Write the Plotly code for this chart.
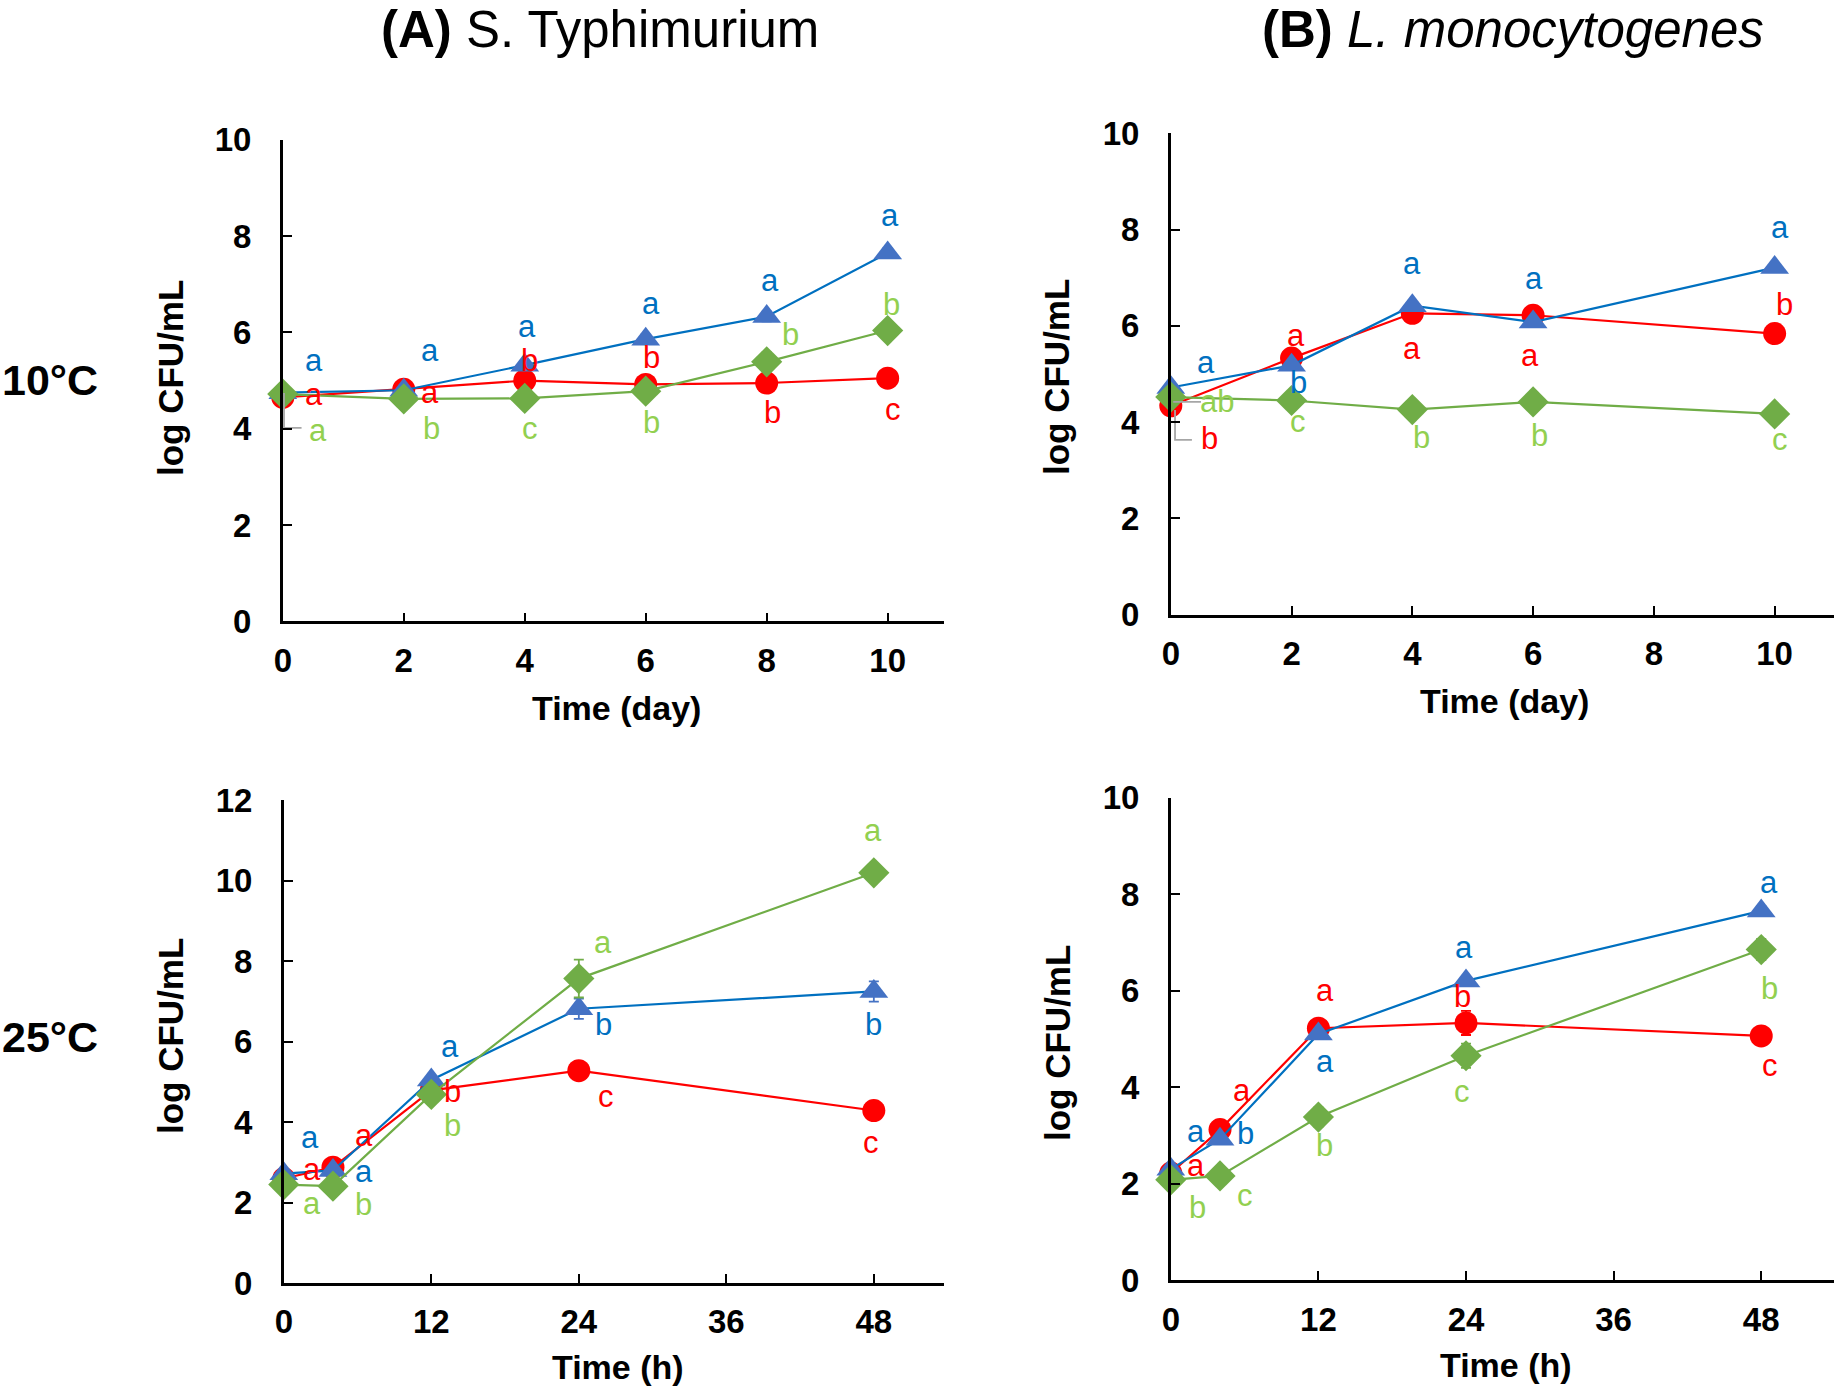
import plotly.graph_objects as go

W, H = 1838, 1391

# ---------------- data ----------------
days_A = [0, 2, 4, 6, 8, 10]
red_A10 = [4.65, 4.82, 5.00, 4.92, 4.95, 5.05]
blue_A10 = [4.75, 4.80, 5.32, 5.86, 6.33, 7.65]
green_A10 = [4.72, 4.62, 4.63, 4.78, 5.39, 6.04]
red_A10_err = [0.05, 0.05, 0.10, 0.05, 0.08, 0.15]
blue_A10_err = [0.05, 0.05, 0.08, 0.10, 0.10, 0.10]
green_A10_err = [0.05, 0.05, 0.05, 0.05, 0.20, 0.10]

days_B = [0, 2, 4, 6, 10]
red_B10 = [4.34, 5.33, 6.26, 6.22, 5.84]
blue_B10 = [4.72, 5.18, 6.42, 6.08, 7.21]
green_B10 = [4.52, 4.45, 4.26, 4.42, 4.17]
red_B10_err = [0.08, 0.08, 0.08, 0.08, 0.08]
blue_B10_err = [0.06, 0.06, 0.08, 0.06, 0.08]
green_B10_err = [0.05, 0.05, 0.05, 0.06, 0.05]

hours = [0, 4, 12, 24, 48]
red_A25 = [2.60, 2.88, 4.79, 5.28, 4.29]
blue_A25 = [2.72, 2.80, 5.05, 6.82, 7.25]
green_A25 = [2.45, 2.41, 4.69, 7.57, 10.20]
red_A25_err = [0.05, 0.05, 0.10, 0.10, 0.10]
blue_A25_err = [0.05, 0.05, 0.10, 0.25, 0.25]
green_A25_err = [0.05, 0.05, 0.10, 0.47, 0.15]

red_B25 = [2.22, 3.12, 5.22, 5.33, 5.06]
blue_B25 = [2.30, 2.92, 5.10, 6.20, 7.65]
green_B25 = [2.08, 2.16, 3.38, 4.65, 6.85]
red_B25_err = [0.05, 0.05, 0.10, 0.25, 0.08]
blue_B25_err = [0.05, 0.05, 0.10, 0.10, 0.10]
green_B25_err = [0.05, 0.05, 0.20, 0.25, 0.22]

# significance letters: x, y, text per series
lab_A10 = {
    "blue": ([0.52, 2.44, 4.04, 6.09, 8.06, 10.04], [5.42, 5.62, 6.12, 6.61, 7.07, 8.43], ["a", "a", "a", "a", "a", "a"]),
    "red": ([0.52, 2.44, 4.08, 6.09, 8.10, 10.09], [4.71, 4.75, 5.41, 5.48, 4.33, 4.41], ["a", "a", "b", "b", "b", "c"]),
    "green": ([0.58, 2.46, 4.08, 6.09, 8.40, 10.07], [3.97, 4.01, 4.01, 4.13, 5.95, 6.58], ["a", "b", "c", "b", "b", "b"]),
}
lab_B10 = {
    "blue": ([0.59, 2.12, 4.00, 6.01, 10.09], [5.23, 4.83, 7.29, 6.99, 8.04], ["a", "b", "a", "a", "a"]),
    "red": ([0.64, 2.08, 4.00, 5.95, 10.16], [3.67, 5.80, 5.54, 5.39, 6.44], ["b", "a", "a", "a", "b"]),
    "green": ([0.76, 2.11, 4.15, 6.10, 10.09], [4.42, 4.02, 3.69, 3.73, 3.63], ["ab", "c", "b", "b", "c"]),
}
lab_A25 = {
    "blue": ([2.13, 6.5, 13.5, 26.0, 48.0], [3.61, 2.77, 5.89, 6.44, 6.44], ["a", "a", "a", "b", "b"]),
    "red": ([2.26, 6.5, 13.7, 26.2, 47.8], [2.82, 3.67, 4.76, 4.63, 3.50], ["a", "a", "b", "c", "c"]),
    "green": ([2.26, 6.5, 13.7, 26.0, 47.9], [1.98, 1.96, 3.92, 8.46, 11.24], ["a", "b", "b", "a", "a"]),
}
lab_B25 = {
    "blue": ([2.08, 6.07, 12.56, 23.8, 48.6], [3.08, 3.03, 4.54, 6.90, 8.24], ["a", "b", "a", "a", "a"]),
    "red": ([2.08, 5.77, 12.56, 23.7, 48.7], [2.38, 3.93, 6.00, 5.87, 4.45], ["a", "a", "a", "b", "c"]),
    "green": ([2.16, 6.07, 12.48, 23.7, 48.7], [1.50, 1.75, 2.79, 3.90, 6.05], ["b", "c", "b", "c", "b"]),
}

# gray leader lines (data units)
leader_A10_x = [0.02, 0.02, 0.31]
leader_A10_y = [4.74, 4.02, 4.02]
leader_B10a_x = [0.04, 0.50]
leader_B10a_y = [4.42, 4.42]
leader_B10b_x = [0.07, 0.07, 0.35]
leader_B10b_y = [4.25, 3.63, 3.63]

# ---------------- style ----------------
FONT = "Liberation Sans, Arial, sans-serif"
LINE_COL = {"red": "#FF0000", "blue": "#0070C0", "green": "#70AD47"}
MARK_COL = {"red": "#FF0000", "blue": "#4472C4", "green": "#70AD47"}
TEXT_COL = {"red": "#FF0000", "blue": "#0070C0", "green": "#92D050"}
SYMBOL = {"red": "circle", "blue": "triangle-up", "green": "diamond"}
MSIZE = {"red": 23, "blue": 25, "green": 24}


def px_x(p):
    return p / W


def px_y(p):
    return 1 - p / H


# panel pixel boxes: left, right, top, bottom
panels = [
    dict(ax="", box=(282.8, 943.9, 139.9, 621.3), xr=[0, 10.93], yr=[0, 10], xt=[0, 2, 4, 6, 8, 10], yt=[0, 2, 4, 6, 8, 10],
         x=days_A, series={"red": (red_A10, red_A10_err), "blue": (blue_A10, blue_A10_err), "green": (green_A10, green_A10_err)},
         labels=lab_A10, xtitle="Time (day)", xt_pos=(616, 708), yt_pos=(170, 378)),
    dict(ax="2", box=(1170.8, 1833.8, 133.3, 614.7), xr=[0, 10.98], yr=[0, 10], xt=[0, 2, 4, 6, 8, 10], yt=[0, 2, 4, 6, 8, 10],
         x=days_B, series={"red": (red_B10, red_B10_err), "blue": (blue_B10, blue_B10_err), "green": (green_B10, green_B10_err)},
         labels=lab_B10, xtitle="Time (day)", xt_pos=(1504, 701), yt_pos=(1057, 377)),
    dict(ax="3", box=(283.8, 943.9, 800.4, 1283.1), xr=[0, 53.7], yr=[0, 12], xt=[0, 12, 24, 36, 48], yt=[0, 2, 4, 6, 8, 10, 12],
         x=hours, series={"red": (red_A25, red_A25_err), "blue": (blue_A25, blue_A25_err), "green": (green_A25, green_A25_err)},
         labels=lab_A25, xtitle="Time (h)", xt_pos=(618, 1367), yt_pos=(170, 1036)),
    dict(ax="4", box=(1170.8, 1833.8, 797.5, 1280.2), xr=[0, 53.9], yr=[0, 10], xt=[0, 12, 24, 36, 48], yt=[0, 2, 4, 6, 8, 10],
         x=hours, series={"red": (red_B25, red_B25_err), "blue": (blue_B25, blue_B25_err), "green": (green_B25, green_B25_err)},
         labels=lab_B25, xtitle="Time (h)", xt_pos=(1506, 1365), yt_pos=(1057, 1043)),
]

fig = go.Figure()
annotations = []
layout = {}

for p in panels:
    ax = p["ax"]
    xref, yref = "x" + ax, "y" + ax
    l, r, t, b = p["box"]
    axis_common = dict(
        showgrid=False, zeroline=False, showline=True, linecolor="black", linewidth=2.5,
        ticks="inside", ticklen=9, tickwidth=2, tickcolor="black",
        tickfont=dict(family=FONT, size=33, color="black", weight="bold"),
        fixedrange=True, automargin=False,
    )
    layout["xaxis" + ax] = dict(axis_common, domain=[px_x(l), px_x(r)], range=p["xr"], tickvals=p["xt"],
                                anchor=yref, ticklabelstandoff=8)
    layout["yaxis" + ax] = dict(axis_common, domain=[px_y(b), px_y(t)], range=p["yr"], tickvals=p["yt"],
                                anchor=xref, ticklabelstandoff=22)

    for key in ["red", "blue", "green"]:
        vals, err = p["series"][key]
        fig.add_trace(go.Scatter(
            x=p["x"], y=vals, mode="lines+markers", xaxis=xref, yaxis=yref,
            line=dict(color=LINE_COL[key], width=2.2),
            marker=dict(symbol=SYMBOL[key], size=MSIZE[key], color=MARK_COL[key], line=dict(width=0)),
            error_y=dict(type="data", array=err, visible=True, color=MARK_COL[key], thickness=1.8, width=5),
            cliponaxis=False, showlegend=False, hoverinfo="skip",
        ))
        lx, ly, lt = p["labels"][key]
        for xx, yy, tt in zip(lx, ly, lt):
            annotations.append(dict(x=xx, y=yy, xref=xref, yref=yref, text=tt, showarrow=False,
                                    font=dict(family=FONT, size=31, color=TEXT_COL[key]),
                                    xanchor="center", yanchor="middle"))

    annotations.append(dict(x=px_x(p["xt_pos"][0]), y=px_y(p["xt_pos"][1]), xref="paper", yref="paper",
                            text="<b>%s</b>" % p["xtitle"], showarrow=False,
                            font=dict(family=FONT, size=34, color="black"), xanchor="center", yanchor="middle"))
    annotations.append(dict(x=px_x(p["yt_pos"][0]), y=px_y(p["yt_pos"][1]), xref="paper", yref="paper",
                            text="<b>log CFU/mL</b>", showarrow=False, textangle=-90,
                            font=dict(family=FONT, size=35, color="black"), xanchor="center", yanchor="middle"))

# leader lines
for lx, ly, ax in [(leader_A10_x, leader_A10_y, ""), (leader_B10a_x, leader_B10a_y, "2"), (leader_B10b_x, leader_B10b_y, "2")]:
    fig.add_trace(go.Scatter(x=lx, y=ly, mode="lines", xaxis="x" + ax, yaxis="y" + ax,
                             line=dict(color="#A6A6A6", width=1.8), cliponaxis=False,
                             showlegend=False, hoverinfo="skip"))

# titles
annotations.append(dict(x=px_x(600), y=px_y(30), xref="paper", yref="paper",
                        text="<b>(A)</b> S. Typhimurium", showarrow=False,
                        font=dict(family=FONT, size=51, color="black"), xanchor="center", yanchor="middle"))
annotations.append(dict(x=px_x(1513), y=px_y(30), xref="paper", yref="paper",
                        text="<b>(B)</b> <i>L. monocytogenes</i>", showarrow=False,
                        font=dict(family=FONT, size=51, color="black"), xanchor="center", yanchor="middle"))
# row labels
annotations.append(dict(x=px_x(50), y=px_y(380), xref="paper", yref="paper", text="<b>10°C</b>",
                        showarrow=False, font=dict(family=FONT, size=43, color="black"),
                        xanchor="center", yanchor="middle"))
annotations.append(dict(x=px_x(50), y=px_y(1037), xref="paper", yref="paper", text="<b>25°C</b>",
                        showarrow=False, font=dict(family=FONT, size=43, color="black"),
                        xanchor="center", yanchor="middle"))

fig.update_layout(
    width=W, height=H, margin=dict(l=0, r=0, t=0, b=0, pad=0, autoexpand=False),
    paper_bgcolor="white", plot_bgcolor="white", showlegend=False,
    annotations=annotations, **layout,
)

fig.write_html("out.html", config={"displayModeBar": False})
